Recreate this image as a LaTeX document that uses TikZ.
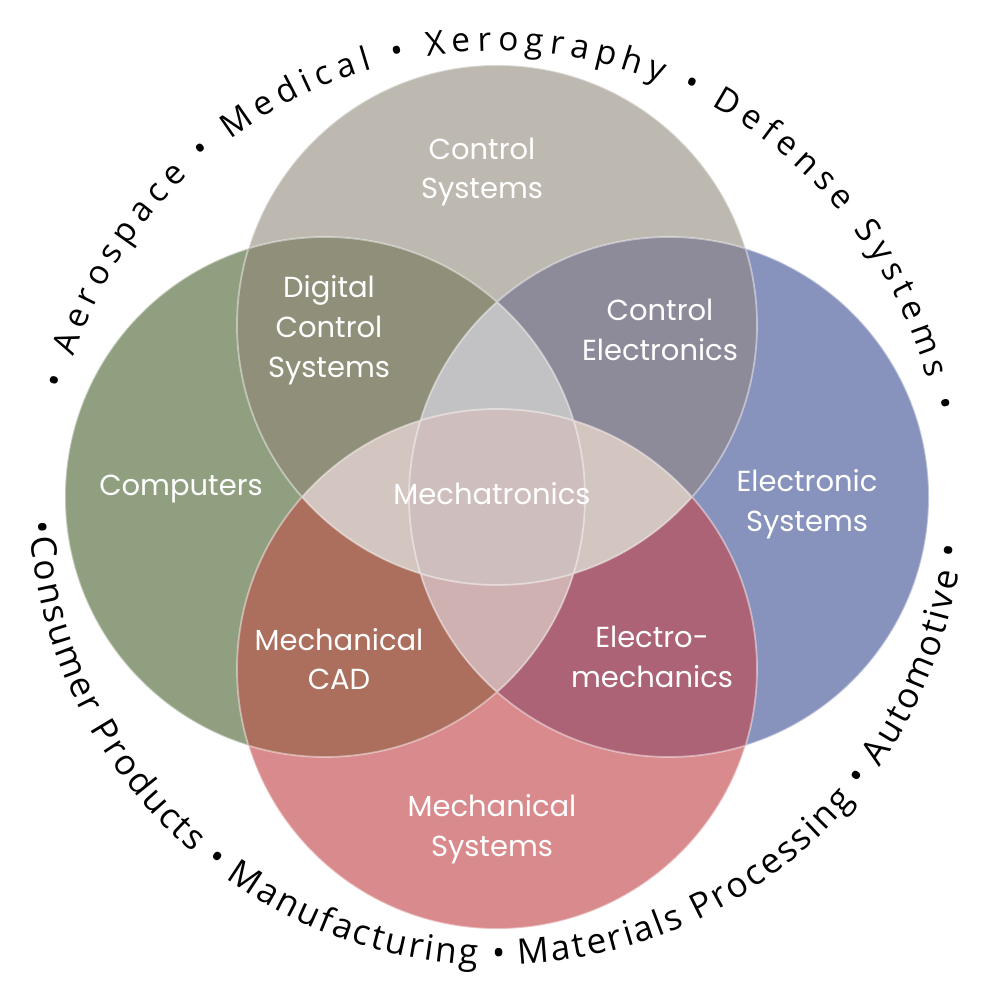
\documentclass[tikz,border=0pt]{standalone}
\usepackage{fontspec}
\usepackage{xcolor}
\usepackage{tikz}
\usetikzlibrary{decorations.text}
\newfontfamily\labelfont{Poppins}
\newfontfamily\ringfont{Open Sans}
\newcommand\ringtop{\ringfont\fontsize{19}{22}\selectfont}
\newcommand\ringbot{\ringfont\fontsize{20}{23}\selectfont}
\definecolor{ctop}{HTML}{BDB9B0}
\definecolor{cleft}{HTML}{909F80}
\definecolor{cright}{HTML}{8893BD}
\definecolor{cbot}{HTML}{D98A8C}
\definecolor{ctopleft}{HTML}{8F8F7A}
\definecolor{ctopright}{HTML}{8D8A9A}
\definecolor{cbotleft}{HTML}{AC6F5D}
\definecolor{cbotright}{HTML}{AC6376}
\definecolor{cmidtop}{HTML}{C2C1C3}
\definecolor{cmidbot}{HTML}{CFB1B1}
\definecolor{clens}{HTML}{D3C5BF}
\definecolor{clensmid}{HTML}{CEBFBE}
\def\topcirc{(0,172) circle[radius=260]}
\def\leftcirc{(-172,0) circle[radius=260]}
\def\rightcirc{(172,0) circle[radius=260]}
\def\botcirc{(0,-172) circle[radius=260]}

\begin{document}
\begin{tikzpicture}[x=0.02cm, y=0.02cm,
    area/.style={text=white, align=center, font=\labelfont\fontsize{16.5}{22.7}\selectfont}]
  \useasboundingbox (-500,-500) rectangle (500,500);
  \begin{scope}[shift={(-3,3)}]
    % the four circles
    \fill[ctop] \topcirc;
    \fill[cleft] \leftcirc;
    \fill[cright] \rightcirc;
    \fill[cbot] \botcirc;
    % overlaps
    \begin{scope}
      \clip \topcirc;
      \fill[ctopleft] \leftcirc;
      \fill[ctopright] \rightcirc;
    \end{scope}
    \begin{scope}
      \clip \botcirc;
      \fill[cbotleft] \leftcirc;
      \fill[cbotright] \rightcirc;
    \end{scope}
    \begin{scope}
      \clip \leftcirc;
      \fill[cmidtop] \rightcirc;
      \clip \rightcirc;
      \fill[cmidbot] \botcirc;
    \end{scope}
    \begin{scope}
      \clip \topcirc;
      \fill[clens] \botcirc;
      \clip \leftcirc;
      \clip \rightcirc;
      \fill[clensmid] \botcirc;
    \end{scope}
    \draw[white, opacity=.45, line width=1pt] \topcirc \leftcirc \rightcirc \botcirc;

    \node[area] (ctrlsys) at (-15,325) {Control\\Systems};
    \node[area] (digctrl) at (-168,167) {Digital\\Control\\Systems};
    \node[area] (ctrlelec) at (163,167) {Control\\Electronics};
    \node[area] (computers) at (-316,8) {Computers};
    \node[area] (mechatronics) at (-5,3) {Mechatronics};
    \node[area] (elecsys) at (310,-7) {Electronic\\Systems};
    \node[area] (mechcad) at (-158,-162) {Mechanical\\CAD};
    \node[area] (electromech) at (155,-160) {Electro-\\mechanics};
    \node[area] (mechsys) at (-5,-332) {Mechanical\\Systems};

    % applications round the rim
    \path[decorate, decoration={text along path, text align=fit to path,
        text={|\ringtop|• Aerospace • Medical • Xerography • Defense Systems •}}]
      (166:446) arc[start angle=166, end angle=11, radius=446];
    \path[decorate, decoration={text along path, text align=fit to path,
        text={|\ringbot|•Consumer Products • Manufacturing • Materials Processing • Automotive •}}]
      (183:468) arc[start angle=183, end angle=354, radius=468];
  \end{scope}
\end{tikzpicture}
\end{document}
